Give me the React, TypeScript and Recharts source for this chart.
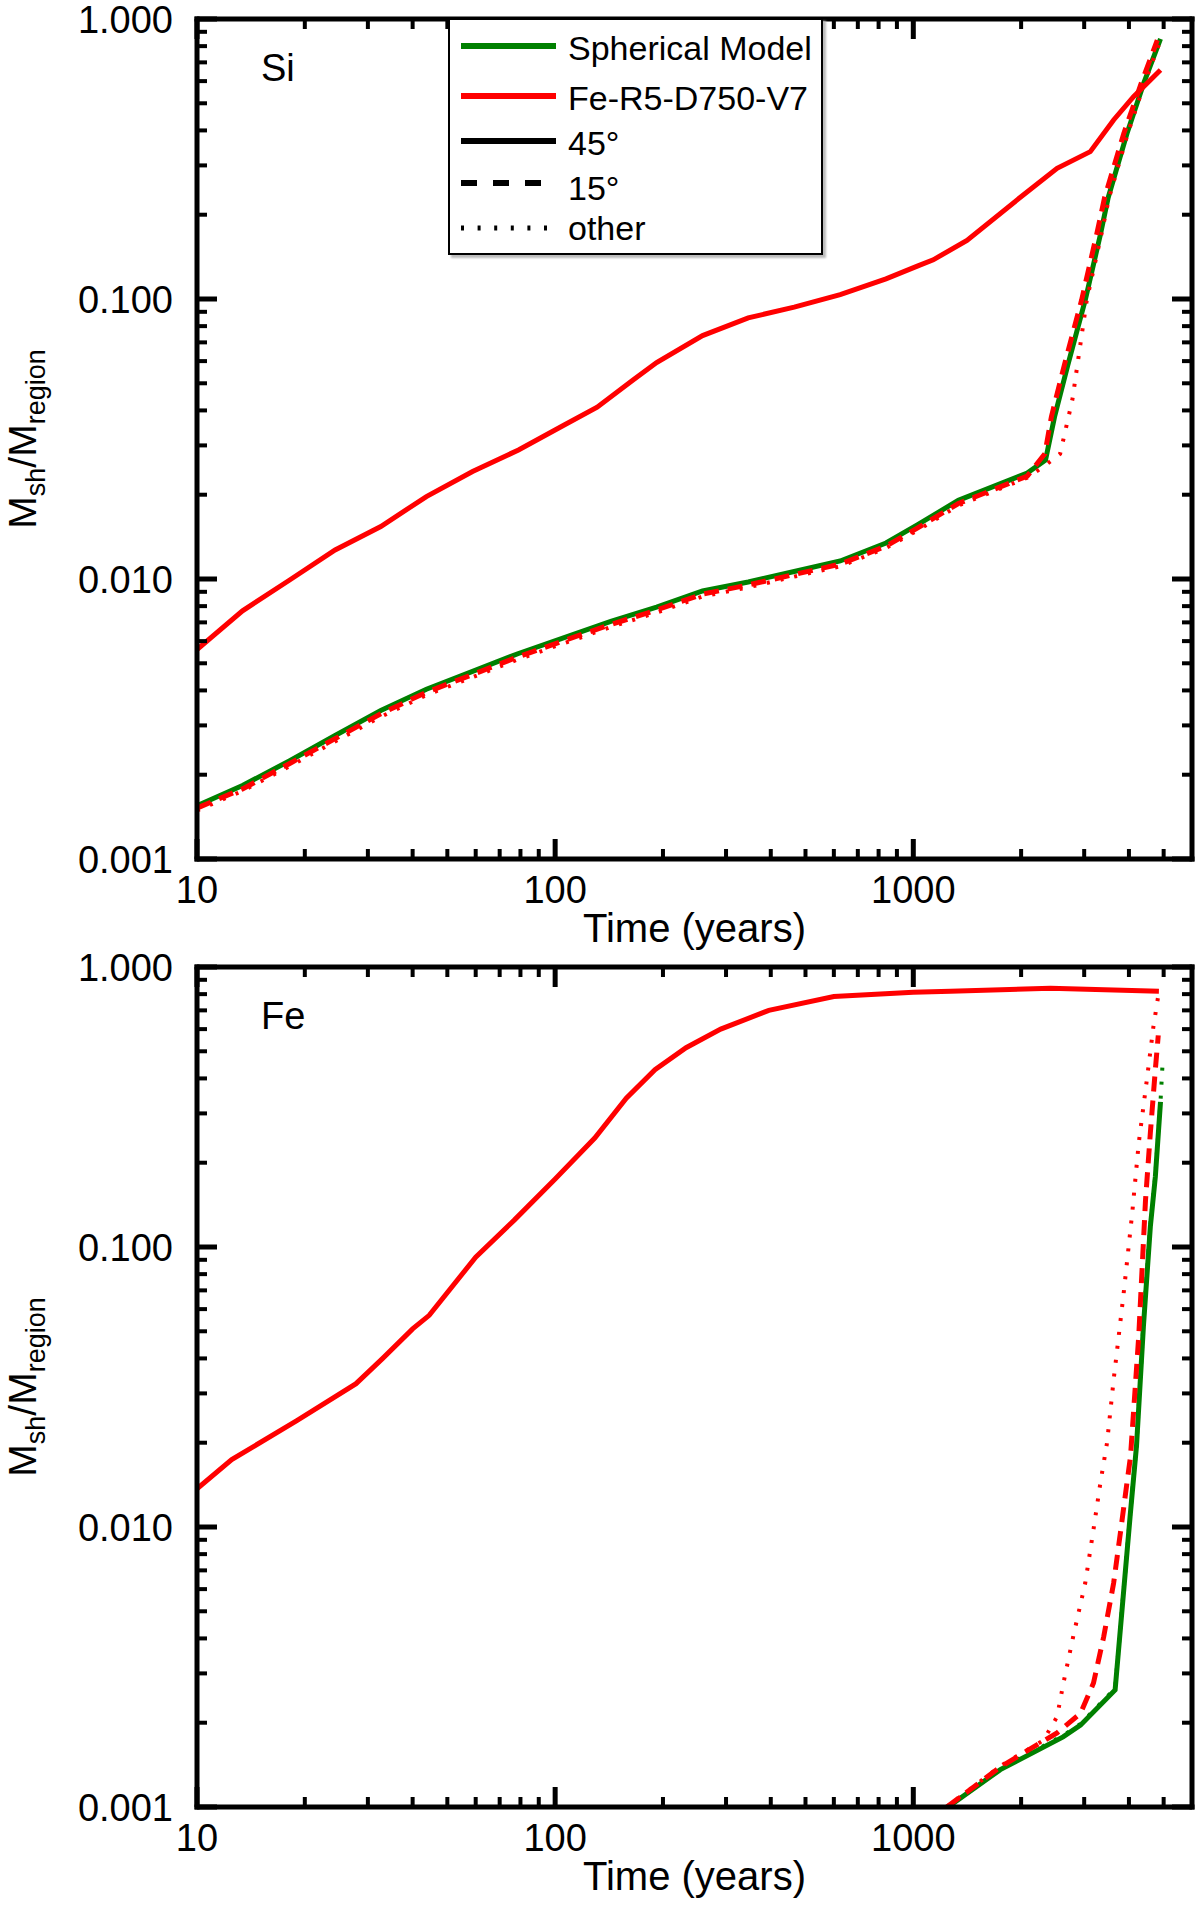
import React from "react";
import { LineChart, Line, XAxis, YAxis } from "recharts";

// [time (years), M_sh/M_region]
type Pt = [number, number];

// ---- Si panel ----
const siSphSolid: Pt[] = [
  [10, 0.00155], [13.4, 0.00183], [18.1, 0.00224], [24.3, 0.00276], [32.6, 0.00339],
  [43.7, 0.00404], [58.8, 0.00468], [79, 0.00542], [106, 0.00618], [143, 0.00706],
  [192, 0.00794], [258, 0.00906], [346, 0.00976], [465, 0.01064], [625, 0.0116],
  [839, 0.01345], [1026, 0.0156], [1336, 0.0191], [2080, 0.0239], [2340, 0.0266],
  [2480, 0.038], [2700, 0.058], [3020, 0.099], [3330, 0.17], [3500, 0.23],
  [3950, 0.39], [4400, 0.59], [4900, 0.85],
];
const siFeSolid: Pt[] = [
  [10, 0.0056], [13.4, 0.0077], [18.1, 0.0099], [24.3, 0.0127], [32.6, 0.0154],
  [43.7, 0.0197], [58.8, 0.0242], [79, 0.0289], [106, 0.0355], [131, 0.0411],
  [165, 0.0514], [192, 0.0593], [258, 0.074], [346, 0.0856], [465, 0.0935],
  [625, 0.1037], [839, 0.118], [1026, 0.131], [1137, 0.138], [1412, 0.162],
  [1950, 0.226], [2520, 0.293], [3120, 0.336], [3625, 0.436], [4120, 0.528],
  [4900, 0.657],
];
const siFeDashed: Pt[] = [
  [10, 0.00152], [13.4, 0.00178], [18.1, 0.00219], [24.3, 0.00269], [32.6, 0.0033],
  [43.7, 0.00394], [58.8, 0.00456], [79, 0.00528], [106, 0.00603], [143, 0.00688],
  [192, 0.00775], [258, 0.00883], [346, 0.00952], [465, 0.01038], [625, 0.0113],
  [839, 0.0131], [1026, 0.0152], [1336, 0.0186], [2080, 0.0233], [2330, 0.028],
  [2430, 0.038], [2640, 0.058], [2950, 0.099], [3250, 0.17], [3420, 0.23],
  [3870, 0.39], [4330, 0.59], [4800, 0.84],
];
const siFeDotted: Pt[] = [
  [10, 0.00149], [13.4, 0.00175], [18.1, 0.00214], [24.3, 0.00263], [32.6, 0.00322],
  [43.7, 0.00385], [58.8, 0.00446], [79, 0.00517], [106, 0.0059], [143, 0.00674],
  [192, 0.00759], [258, 0.00866], [346, 0.00934], [465, 0.0102], [625, 0.0111],
  [839, 0.0129], [1026, 0.0149], [1336, 0.0183], [2080, 0.023], [2340, 0.0255],
  [2570, 0.028], [2780, 0.0436], [3050, 0.099], [3350, 0.17], [3520, 0.23],
  [3970, 0.39], [4420, 0.59], [4900, 0.84],
];

// ---- Fe panel ----
const feFeSolid: Pt[] = [
  [10, 0.0137], [12.5, 0.0174], [19, 0.024], [27.8, 0.0325], [33, 0.04],
  [40, 0.051], [44.5, 0.057], [60, 0.092], [77, 0.125], [100, 0.175],
  [129, 0.245], [158, 0.34], [190, 0.43], [232, 0.515], [290, 0.6],
  [395, 0.7], [600, 0.785], [1000, 0.812], [1270, 0.82], [2415, 0.84], [4850, 0.82],
];
const feSphSolid: Pt[] = [
  [1250, 0.001], [1750, 0.00136], [2620, 0.00178], [2930, 0.00196], [3660, 0.00262],
  [4030, 0.0109], [4200, 0.0195], [4390, 0.052], [4590, 0.118], [4740, 0.178], [4900, 0.33],
];
const feSphDotted: Pt[] = [
  [1250, 0.001], [1750, 0.00137], [2620, 0.0018], [2930, 0.00198], [3660, 0.00265],
  [4030, 0.011], [4200, 0.0197], [4390, 0.053], [4590, 0.12], [4740, 0.18],
  [4900, 0.33], [4960, 0.44],
];
const feFeDashed: Pt[] = [
  [1240, 0.001], [1750, 0.00139], [2520, 0.00184], [2930, 0.00216], [3185, 0.00277],
  [3400, 0.00405], [3625, 0.0063], [3785, 0.0095], [3950, 0.0144], [4040, 0.0178],
  [4260, 0.048], [4450, 0.147], [4590, 0.255], [4740, 0.43], [4830, 0.57],
];
const feFeDotted: Pt[] = [
  [1240, 0.001], [1750, 0.0014], [2307, 0.00173], [2520, 0.0021], [2625, 0.00277],
  [2800, 0.0041], [3020, 0.0063], [3185, 0.0098], [3330, 0.0144], [3475, 0.02],
  [3625, 0.0335], [3865, 0.068], [4085, 0.132], [4260, 0.235], [4500, 0.406],
  [4680, 0.61], [4830, 0.79],
];

const X_TICKS = [
  10, 20, 30, 40, 50, 60, 70, 80, 90,
  100, 200, 300, 400, 500, 600, 700, 800, 900,
  1000, 2000, 3000, 4000, 5000,
];
const Y_TICKS = [
  0.001, 0.002, 0.003, 0.004, 0.005, 0.006, 0.007, 0.008, 0.009,
  0.01, 0.02, 0.03, 0.04, 0.05, 0.06, 0.07, 0.08, 0.09,
  0.1, 0.2, 0.3, 0.4, 0.5, 0.6, 0.7, 0.8, 0.9, 1,
];

const GREEN = "#008000";
const RED = "#ff0000";
const FONT = '"Liberation Sans", Arial, Helvetica, sans-serif';
const DASH = "15 9";
const DOT = "3 11";

const LEGEND = [
  { label: "Spherical Model", color: GREEN, dash: undefined },
  { label: "Fe-R5-D750-V7", color: RED, dash: undefined },
  { label: "45\u00b0", color: "#000", dash: undefined },
  { label: "15\u00b0", color: "#000", dash: "16 16" },
  { label: "other", color: "#000", dash: "3 13.6" },
];

const PLOT_LEFT = 197;
const PLOT_TOP = 19;
const PLOT_W = 995;
const PLOT_H = 840;

const AXIS = { stroke: "#000", strokeWidth: 5, strokeLinecap: "square" as const };

const isMajor = (v: number) => Math.abs(Math.log10(v) - Math.round(Math.log10(v))) < 1e-6;

const toPts = (a: Pt[]) => a.map(([t, v]) => ({ t, v }));

function BottomTick(props: any) {
  const { x, y, payload } = props;
  const major = isMajor(payload.value);
  return (
    <g>
      <line x1={x} x2={x} y1={y} y2={y - (major ? 20 : 10)} stroke="#000" strokeWidth={major ? 5 : 4} />
      {major && (
        <text x={x} y={y + 44} textAnchor="middle" fontFamily={FONT} fontSize={38} fill="#000">
          {payload.value}
        </text>
      )}
    </g>
  );
}

function TopTick(props: any) {
  const { x, payload } = props;
  const major = isMajor(payload.value);
  return <line x1={x} x2={x} y1={PLOT_TOP} y2={PLOT_TOP + (major ? 20 : 10)} stroke="#000" strokeWidth={major ? 5 : 4} />;
}

function LeftTick(props: any) {
  const { x, y, payload } = props;
  const major = isMajor(payload.value);
  return (
    <g>
      <line x1={x} x2={x + (major ? 20 : 10)} y1={y} y2={y} stroke="#000" strokeWidth={major ? 5 : 4} />
      {major && (
        <text x={x - 24} y={y + 14} textAnchor="end" fontFamily={FONT} fontSize={38} fill="#000">
          {payload.value.toFixed(3)}
        </text>
      )}
    </g>
  );
}

function RightTick(props: any) {
  const { y, payload } = props;
  const major = isMajor(payload.value);
  const x = PLOT_LEFT + PLOT_W;
  return <line x1={x} x2={x - (major ? 20 : 10)} y1={y} y2={y} stroke="#000" strokeWidth={major ? 5 : 4} />;
}

const xTitle = () => (
  <text x={PLOT_LEFT + PLOT_W / 2} y={PLOT_TOP + PLOT_H + 83} textAnchor="middle" fontFamily={FONT} fontSize={40} fill="#000">
    Time (years)
  </text>
);

const yTitle = () => {
  const cx = 36;
  const cy = PLOT_TOP + PLOT_H / 2;
  return (
    <text x={cx} y={cy} transform={`rotate(-90, ${cx}, ${cy})`} textAnchor="middle" fontFamily={FONT} fontSize={39} fill="#000">
      M<tspan dy={9} fontSize={27}>sh</tspan>
      <tspan dy={-9}>/M</tspan>
      <tspan dy={9} fontSize={27}>region</tspan>
    </text>
  );
};

// top: draw against the top/right axes (same scales), so those axes are used
type Series = { data: Pt[]; color: string; dash?: string; width: number; top?: boolean };

function Panel({ top, name, series, legend }: { top: number; name: string; series: Series[]; legend?: boolean }) {
  return (
    <div style={{ position: "absolute", left: 0, top, width: 1200, height: 960 }}>
      <LineChart width={1200} height={960} margin={{ top: PLOT_TOP - 1, right: 1200 - PLOT_LEFT - PLOT_W - 1, bottom: 0, left: 0 }}>
        <XAxis
          xAxisId="b" dataKey="t" type="number" scale="log" domain={[10, 6000]} allowDataOverflow
          ticks={X_TICKS} interval={0} height={960 - PLOT_TOP - PLOT_H} tickLine={false}
          tickSize={0} tickMargin={0} axisLine={AXIS} tick={BottomTick} label={xTitle}
        />
        <XAxis
          xAxisId="t" orientation="top" dataKey="t" type="number" scale="log" domain={[10, 6000]} allowDataOverflow
          ticks={X_TICKS} interval={0} height={1} tickLine={false} tickSize={0} tickMargin={0}
          axisLine={AXIS} tick={TopTick}
        />
        <YAxis
          yAxisId="l" type="number" scale="log" domain={[0.001, 1]} allowDataOverflow
          ticks={Y_TICKS} interval={0} width={PLOT_LEFT} tickLine={false} tickSize={0} tickMargin={0}
          axisLine={AXIS} tick={LeftTick} label={yTitle}
        />
        <YAxis
          yAxisId="r" orientation="right" type="number" scale="log" domain={[0.001, 1]} allowDataOverflow
          ticks={Y_TICKS} interval={0} width={1} tickLine={false} tickSize={0} tickMargin={0}
          axisLine={AXIS} tick={RightTick}
        />
        {series.map((s, i) => (
          <Line
            key={i}
            xAxisId={s.top ? "t" : "b"}
            yAxisId={s.top ? "r" : "l"}
            data={toPts(s.data)}
            dataKey="v"
            type="linear"
            stroke={s.color}
            strokeWidth={s.width}
            strokeDasharray={s.dash}
            dot={false}
            activeDot={false}
            isAnimationActive={false}
          />
        ))}
      </LineChart>
      <svg width={1200} height={960} style={{ position: "absolute", left: 0, top: 0, pointerEvents: "none" }}>
        <text x={261} y={81} fontFamily={FONT} fontSize={38} fill="#000">{name}</text>
      </svg>
      {legend && (
        <div
          style={{
            position: "absolute", left: 448, top: 18, width: 375, height: 237, boxSizing: "border-box",
            border: "2px solid #000", background: "#fff", boxShadow: "3px 3px 2px #bbb",
          }}
        >
          <svg width={371} height={233} style={{ display: "block" }}>
            {LEGEND.map((e, i) => {
              const ly = [26, 76, 121, 163, 208][i];
              const ty = [40, 90, 135, 180, 220][i];
              return (
                <g key={e.label}>
                  <line x1={11} x2={106} y1={ly} y2={ly} stroke={e.color} strokeWidth={i === 4 ? 5 : 6} strokeDasharray={e.dash} />
                  <text x={118} y={ty} fontFamily={FONT} fontSize={34} fill="#000">{e.label}</text>
                </g>
              );
            })}
          </svg>
        </div>
      )}
    </div>
  );
}

const siSeries: Series[] = [
  { data: siSphSolid, color: GREEN, width: 5 },
  { data: siFeDotted, color: RED, dash: DOT, width: 4 },
  { data: siFeDashed, color: RED, dash: DASH, width: 5 },
  { data: siFeSolid, color: RED, width: 5, top: true },
];

const feSeries: Series[] = [
  { data: feSphDotted, color: GREEN, dash: DOT, width: 4 },
  { data: feSphSolid, color: GREEN, width: 5 },
  { data: feFeDotted, color: RED, dash: DOT, width: 4 },
  { data: feFeDashed, color: RED, dash: DASH, width: 5 },
  { data: feFeSolid, color: RED, width: 5, top: true },
];

export default function App() {
  return (
    <div style={{ position: "absolute", left: 0, top: 0, width: 1200, height: 1919, background: "#fff" }}>
      <Panel top={0} name="Si" series={siSeries} legend />
      <Panel top={948} name="Fe" series={feSeries} />
    </div>
  );
}
